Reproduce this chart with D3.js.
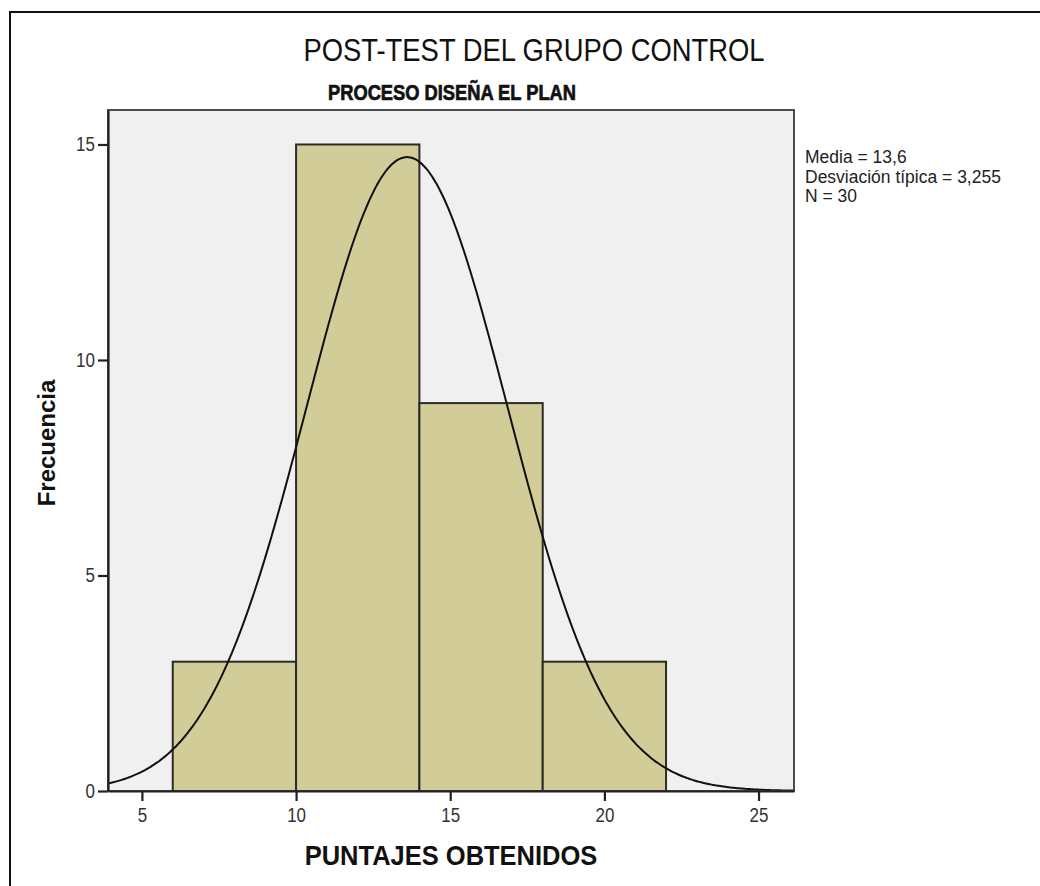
<!DOCTYPE html>
<html>
<head>
<meta charset="utf-8">
<script src="https://cdn.jsdelivr.net/npm/d3@7"></script>
<style>
  html, body { margin: 0; padding: 0; background: #fff; }
  svg { display: block; }
  text { font-family: "Liberation Sans", Arial, sans-serif; }
</style>
</head>
<body>
<svg id="chart" width="1040" height="886"></svg>
<script>
// ---- data ----
const binStarts = [6, 10, 14, 18];
const binEnds = [10, 14, 18, 22];
const binCounts = [3, 15, 9, 3];
const xTicks = [5, 10, 15, 20, 25];
const yTicks = [0, 5, 10, 15];
const statMean = 13.6;
const statSD = 3.255;
const statN = 30;
const statLines = ["Media = 13,6", "Desviación típica = 3,255", "N = 30"];
const titleText = "POST-TEST DEL GRUPO CONTROL";
const subtitleText = "PROCESO DISEÑA EL PLAN";
const xLabel = "PUNTAJES OBTENIDOS";
const yLabel = "Frecuencia";

const svg = d3.select("#chart");

// outer frame (right/bottom edges run off the picture)
svg.append("rect").attr("x", 10).attr("y", 12).attr("width", 1100).attr("height", 1000)
  .attr("fill", "#fff").attr("stroke", "#111").attr("stroke-width", 2);

const plot = { left: 108, top: 110, right: 794, bottom: 791 };
const x = d3.scaleLinear().domain([3.9, 26.15]).range([plot.left, plot.right]);
const y = d3.scaleLinear().domain([0, 15.8]).range([plot.bottom, plot.top]);

svg.append("rect").attr("x", plot.left).attr("y", plot.top)
  .attr("width", plot.right - plot.left).attr("height", plot.bottom - plot.top)
  .attr("fill", "#f0f0f0");

svg.append("defs").append("clipPath").attr("id", "clip")
  .append("rect").attr("x", plot.left).attr("y", plot.top)
  .attr("width", plot.right - plot.left).attr("height", plot.bottom - plot.top);

const bins = binCounts.map((c, i) => ({ x0: binStarts[i], x1: binEnds[i], c }));
svg.append("g").selectAll("rect").data(bins).join("rect")
  .attr("x", d => x(d.x0)).attr("y", d => y(d.c))
  .attr("width", d => x(d.x1) - x(d.x0)).attr("height", d => y(0) - y(d.c))
  .attr("fill", "#d2cd98").attr("stroke", "#2b2b27").attr("stroke-width", 2);

// normal curve from the stated mean / sd / N, scaled to bin width
const binW = binEnds[0] - binStarts[0];
const dens = v => statN * binW / (statSD * Math.sqrt(2 * Math.PI)) *
  Math.exp(-0.5 * Math.pow((v - statMean) / statSD, 2));
const xs = d3.range(400).map(i => x.domain()[0] + i * (x.domain()[1] - x.domain()[0]) / 399);
svg.append("path").attr("clip-path", "url(#clip)")
  .attr("d", d3.line().x(v => x(v)).y(v => y(dens(v))).curve(d3.curveBasis)(xs))
  .attr("fill", "none").attr("stroke", "#111").attr("stroke-width", 2);

// frame of plot area
svg.append("rect").attr("x", plot.left).attr("y", plot.top)
  .attr("width", plot.right - plot.left).attr("height", plot.bottom - plot.top)
  .attr("fill", "none").attr("stroke", "#3a3a3a").attr("stroke-width", 1.8);

// axes
const tickFs = 17, tickK = 1.15;
const xAxis = svg.append("g").attr("transform", `translate(0,${plot.bottom})`)
  .call(d3.axisBottom(x).tickValues(xTicks).tickSize(10).tickSizeOuter(0).tickPadding(5).tickFormat(d3.format("d")));
const yAxis = svg.append("g").attr("transform", `translate(${plot.left},0)`)
  .call(d3.axisLeft(y).tickValues(yTicks).tickSize(10).tickSizeOuter(0).tickPadding(3).tickFormat(d3.format("d")));
[xAxis, yAxis].forEach(a => {
  a.select(".domain").attr("stroke", "#222").attr("stroke-width", 2.2);
  a.selectAll(".tick line").attr("stroke", "#222").attr("stroke-width", 2.2);
  a.selectAll(".tick text").attr("fill", "#333").style("font-size", tickFs + "px")
    .style("font-family", "'Liberation Sans', Arial, sans-serif")
    .attr("transform", `scale(1,${tickK})`);
});

// titles
function scaledText(tx, ty, k, str, fs, weight, anchor) {
  return svg.append("text").attr("transform", `translate(${tx},${ty}) scale(1,${k})`)
    .attr("text-anchor", anchor || "middle")
    .style("font-size", fs + "px").style("font-weight", weight || "normal")
    .attr("fill", "#111").text(str);
}
scaledText(534, 61, 1.12, titleText, 27.4, "normal");
scaledText(452, 100, 1.2, subtitleText, 18.3, "bold")
  .attr("stroke", "#111").attr("stroke-width", 0.6);

// axis labels
scaledText(451, 865, 1.08, xLabel, 25.5, "bold");
svg.append("text").attr("transform", "translate(55,443) rotate(-90)").attr("text-anchor", "middle")
  .style("font-size", "24px").style("font-weight", "bold").attr("fill", "#111").text(yLabel);

// stats legend
statLines.forEach((s, i) => {
  scaledText(805, 163 + i * 19.5, 1.08, s, 17.5, "normal", "start").attr("fill", "#222");
});
</script>
</body>
</html>
